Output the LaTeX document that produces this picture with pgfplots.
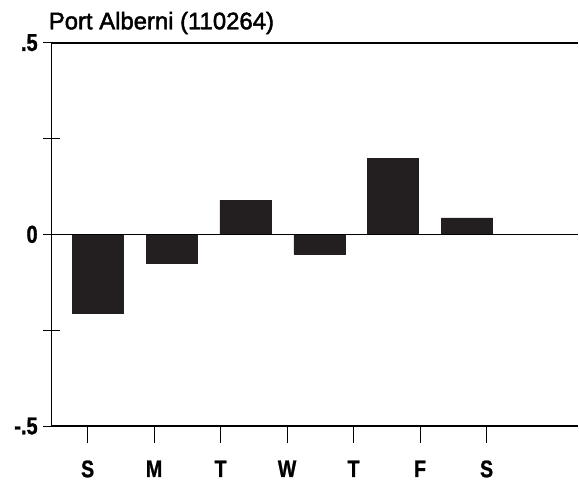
\documentclass[border=0pt]{standalone}
\usepackage{pgfplots}
\pgfplotsset{compat=1.18}
\usepackage{fontspec}
\setmainfont{Liberation Sans}
\newfontfamily\cond[FakeStretch=0.82, BoldFont={Liberation Sans Bold}, BoldFeatures={FakeBold=1}]{Liberation Sans}
\newfontfamily\titlefont[FakeBold=2]{Liberation Sans}
\definecolor{barc}{HTML}{231F20}
\begin{document}
\begin{tikzpicture}
\begin{axis}[
  scale only axis,
  width=527.3bp, height=384bp,
  xmin=-0.623, xmax=6.503,
  ymin=-0.5, ymax=0.5,
  axis lines=left,
  axis line style={-, line width=1.3bp, black},
  xtick={-0.136,0.764,1.664,2.564,3.464,4.364,5.264},
  xticklabels={S,M,T,W,T,F,S},
  ytick={-0.5,-0.25,0,0.25,0.5},
  yticklabels={-.5,,0,,.5},
  tick align=center,
  major tick length=17bp,
  tick style={black, line width=1bp},
  xticklabel style={font=\cond\bfseries\fontsize{24}{24}\selectfont, yshift=-14bp},
  yticklabel style={font=\cond\bfseries\fontsize{24.5}{24.5}\selectfont, xshift=-2bp},
  ybar, bar width=0.69,
  clip=false,
]
\addplot[fill=barc, draw=barc, line width=0.5bp] coordinates {
  (0,-0.205) (1,-0.075) (2,0.0885) (3,-0.051) (4,0.199) (5,0.043) (6,0)
};
\draw[black, line width=1.8bp] (rel axis cs:0,1) -- (rel axis cs:1,1);
\draw[black, line width=1.2bp] (axis cs:-0.623,0) -- (axis cs:6.503,0);
\node[anchor=base west, inner sep=0pt, font=\titlefont\fontsize{24}{24}\selectfont] at ([xshift=-3bp, yshift=13.4bp]rel axis cs:0,1) {Port Alberni (110264)};
\end{axis}
\path[use as bounding box] (current axis.south west) ++(-51.7bp,-49.3bp) rectangle ++(579bp,476bp);
\end{tikzpicture}
\end{document}
